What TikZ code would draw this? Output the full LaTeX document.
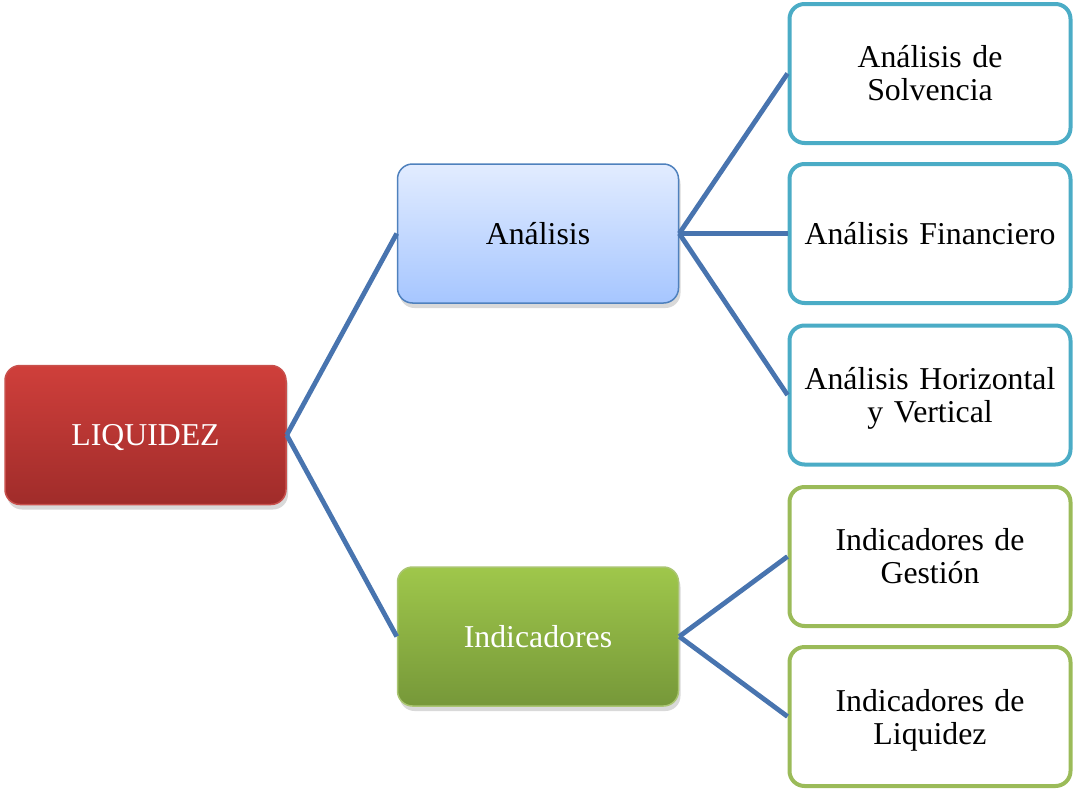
\documentclass[tikz,border=0pt]{standalone}
\usepackage{fontspec}
\setmainfont{Liberation Serif}
\usetikzlibrary{shadows}
\definecolor{conn}{HTML}{4874AF}
\definecolor{redtop}{HTML}{CF3F3B}
\definecolor{redbot}{HTML}{A02C2A}
\definecolor{redbd}{HTML}{C8504C}
\definecolor{bluetop}{HTML}{E2ECFF}
\definecolor{bluebot}{HTML}{A6C6FF}
\definecolor{bluebd}{HTML}{4F81BD}
\definecolor{greentop}{HTML}{9FC74B}
\definecolor{greenbot}{HTML}{769839}
\definecolor{greenbd}{HTML}{9BBB59}
\definecolor{tealbd}{HTML}{4BACC6}
\tikzset{
  x=1pt, y=-1pt,
  box/.style={rounded corners=15pt, minimum width=281pt, minimum height=139pt,
    inner sep=0pt, align=center, text width=265pt,
    font=\fontsize{31.8}{33}\selectfont},
  mainbox/.style={box, line width=1.5pt,
    drop shadow={opacity=0.3, shadow xshift=2pt, shadow yshift=-5pt}},
  leafbox/.style={box, line width=4pt, fill=white},
  conline/.style={draw=conn, line width=4.8pt}
}
\begin{document}
\begin{tikzpicture}
\useasboundingbox (0,0) rectangle (1074,790);
\node[mainbox, draw=redbd, top color=redtop, bottom color=redbot, text=white] (liq) at (145.5,435) {\smash{LIQUIDEZ}\vphantom{L}};
\node[mainbox, draw=bluebd, top color=bluetop, bottom color=bluebot] (ana) at (538,233.5) {Análisis};
\node[mainbox, draw=greenbd!85, top color=greentop, bottom color=greenbot, text=white] (ind) at (538,636.5) {Indicadores};
\node[leafbox, draw=tealbd] (sol) at (930,73.5) {Análisis de\\Solvencia};
\node[leafbox, draw=tealbd] (fin) at (930,233.5) {Análisis Financiero};
\node[leafbox, draw=tealbd] (hor) at (930,395) {Análisis Horizontal\\\smash{y Vertical}};
\node[leafbox, draw=greenbd] (ges) at (930,556.5) {Indicadores de\\Gestión};
\node[leafbox, draw=greenbd] (liqz) at (930,716.5) {Indicadores de\\\smash{Liquidez}};
\draw[conline] (liq.east) -- (ana.west);
\draw[conline] (liq.east) -- (ind.west);
\draw[conline] (ana.east) -- (sol.west);
\draw[conline] (ana.east) -- (fin.west);
\draw[conline] (ana.east) -- (hor.west);
\draw[conline] (ind.east) -- (ges.west);
\draw[conline] (ind.east) -- (liqz.west);
\end{tikzpicture}
\end{document}
